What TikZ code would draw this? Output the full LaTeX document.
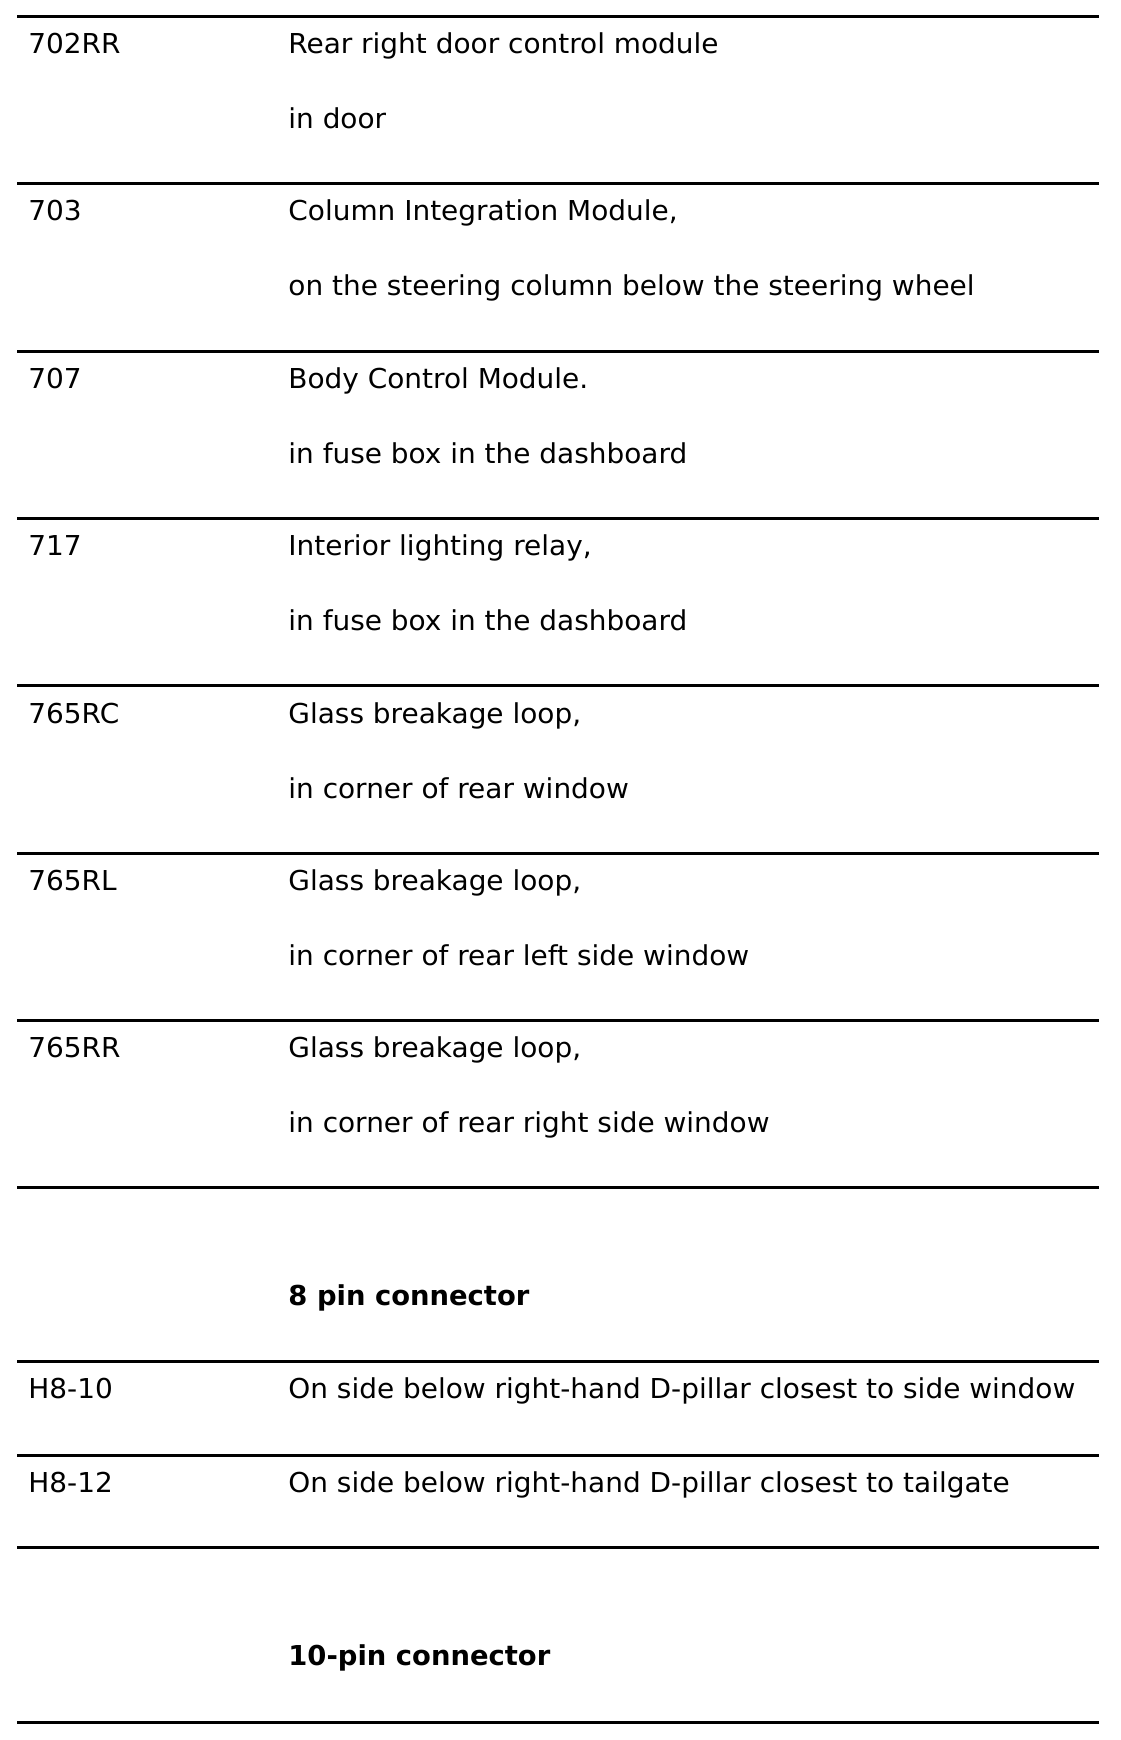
\documentclass[tikz,border=0pt]{standalone}
\usepackage{fontspec}
\setmainfont{DejaVu Sans}[FakeStretch=1.02, BoldFeatures={FakeStretch=1.0}]
\usepackage{tikz}

\tikzset{
    cell/.style={anchor=base west, inner sep=0pt, font=\fontsize{13.7}{16}\selectfont},
    head/.style={cell, font=\fontsize{13.7}{16}\selectfont\bfseries},
    rule/.style={line width=1.5pt}
}

\begin{document}
\begin{tikzpicture}[x=0.5pt, y=-0.5pt]
    \useasboundingbox (0, 0) rectangle (1120, 1740);

    \foreach \y in {16.5, 183.5, 351.5, 518.5, 685.5, 853.5, 1020.5, 1187.5, 1361.5, 1455.5, 1547.5, 1722.5}
        \draw[rule] (17, \y) -- (1099, \y);

    \node[cell] (k702rr) at (28, 53.5)   {702RR};
    \node[cell] (d702rr) at (288, 53.5)  {Rear right door control module};
    \node[cell] (p702rr) at (288, 128.5) {in door};

    \node[cell] (k703) at (28, 220.9)  {703};
    \node[cell] (d703) at (288, 220.9) {Column Integration Module,};
    \node[cell] (p703) at (288, 295.9) {on the steering column below the steering wheel};

    \node[cell] (k707) at (28, 388.3)  {707};
    \node[cell] (d707) at (288, 388.3) {Body Control Module.};
    \node[cell] (p707) at (288, 463.3) {in fuse box in the dashboard};

    \node[cell] (k717) at (28, 555.7)  {717};
    \node[cell] (d717) at (288, 555.7) {Interior lighting relay,};
    \node[cell] (p717) at (288, 630.7) {in fuse box in the dashboard};

    \node[cell] (k765rc) at (28, 723.1)  {765RC};
    \node[cell] (d765rc) at (288, 723.1) {Glass breakage loop,};
    \node[cell] (p765rc) at (288, 798.1) {in corner of rear window};

    \node[cell] (k765rl) at (28, 890.5)  {765RL};
    \node[cell] (d765rl) at (288, 890.5) {Glass breakage loop,};
    \node[cell] (p765rl) at (288, 965.5) {in corner of rear left side window};

    \node[cell] (k765rr) at (28, 1057.9)  {765RR};
    \node[cell] (d765rr) at (288, 1057.9) {Glass breakage loop,};
    \node[cell] (p765rr) at (288, 1132.9) {in corner of rear right side window};

    \node[head] (pin8) at (288, 1305) {8 pin connector};

    \node[cell] (kh810) at (28, 1398.5)  {H8-10};
    \node[cell] (dh810) at (288, 1398.5) {On side below right-hand D-pillar closest to side window};

    \node[cell] (kh812) at (28, 1492)  {H8-12};
    \node[cell] (dh812) at (288, 1492) {On side below right-hand D-pillar closest to tailgate};

    \node[head] (pin10) at (288, 1665) {10-pin connector};
\end{tikzpicture}
\end{document}
